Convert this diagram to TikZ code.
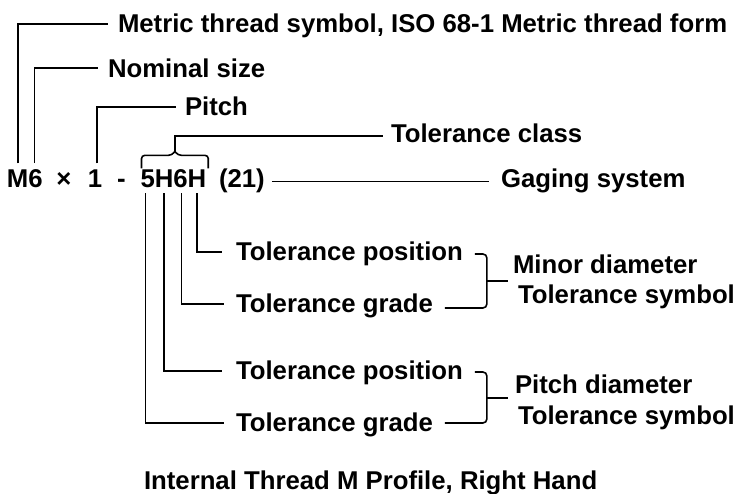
\documentclass[tikz,border=0pt]{standalone}
\usepackage{fontspec}
\setmainfont{Liberation Sans}
\usetikzlibrary{calc}
\begin{document}
\begin{tikzpicture}[x=0.75pt,y=-0.75pt,
  lbl/.style={anchor=base west,inner sep=0pt,outer sep=0pt,font=\fontsize{19.3}{22}\selectfont\bfseries,text=black},
  ln/.style={line width=1.2pt,draw=black}]
\useasboundingbox (0,0) rectangle (734,493);
% labels
\node[lbl] (metric) at (118,32) {Metric thread symbol, ISO 68-1 Metric thread form};
\node[lbl] (nominal) at (108,77) {Nominal size};
\node[lbl] (pitch) at (185,115) {Pitch};
\node[lbl] (tclass) at (391,142) {Tolerance class};
\node[lbl] (gaging) at (501,187.5) {Gaging system};
\node[lbl] (tpos1) at (236,260) {Tolerance position};
\node[lbl] (tgr1) at (236,312) {Tolerance grade};
\node[lbl] (tpos2) at (236,379) {Tolerance position};
\node[lbl] (tgr2) at (236,431) {Tolerance grade};
\node[lbl] (minor) at (513,273) {Minor diameter};
\node[lbl] (tsym1) at (518,303) {Tolerance symbol};
\node[lbl] (pdia) at (515,393) {Pitch diameter};
\node[lbl] (tsym2) at (518,424) {Tolerance symbol};
\node[lbl] (title) at (144,489) {Internal Thread M Profile, Right Hand};
% designation
\node[lbl] (cM) at (7,187) {M};
\node[lbl] (c6a) at (cM.base east) {6};
\node[lbl,anchor=base] (times) at (64,187) {×};
\node[lbl,anchor=base] (c1) at (95,187) {1};
\node[lbl,anchor=base] (dash) at (121.5,187) {-};
\node[lbl] (c5) at (140.5,187) {5};
\node[lbl] (cH1) at (c5.base east) {H};
\node[lbl] (c6) at (cH1.base east) {6};
\node[lbl] (cH2) at (c6.base east) {H};
\node[lbl] (c21) at (219,187) {(21)};
% upper leaders
\draw[ln] ($(cM.north)+(0,-6)$) |- ($(metric.base west)+(-10,-8)$);
\draw[ln] ($(c6a.north)+(-1,-6)$) |- ($(nominal.base west)+(-10,-9)$);
\draw[ln] ($(c1.north)+(2,-6)$) |- ($(pitch.base west)+(-9,-8)$);
% tolerance class brace
\coordinate (bL) at ($(c5.north west)+(1,-1)$);
\coordinate (bR) at ($(cH2.north east)+(2,-1)$);
\coordinate (bT) at ($(bL)!0.5!(bR)+(0,-17)$);
\draw[ln,rounded corners=2.5pt] (bL) |- ($(bT)+(-3,4)$) -- (bT);
\draw[ln,rounded corners=2.5pt] (bR) |- ($(bT)+(3,4)$) -- (bT);
\draw[ln] (bT) |- ($(tclass.base west)+(-8,-6)$);
% gaging
\coordinate (g0) at ($(c21.base east)+(7,-5.5)$);
\draw[ln] (g0) -- (g0 -| {$(gaging.base west)+(-12,0)$});
% lower leaders
\draw[ln] ($(cH2.south)+(0,6)$) |- ($(tpos1.base west)+(-14,-8)$);
\draw[ln] ($(c6.south)+(1,6)$) |- ($(tgr1.base west)+(-12,-8)$);
\draw[ln] ($(cH1.south)+(0,6)$) |- ($(tpos2.base west)+(-14,-8)$);
\draw[ln] ($(c5.south)+(-2,6)$) |- ($(tgr2.base west)+(-12,-8)$);
% right brackets
\draw[ln,rounded corners=3pt] ($(tpos1.base east)+(12,-6)$) -| ($(tgr1.base east)+(54,-4)$) -- ($(tgr1.base east)+(12,-4)$);
\draw[ln] ($(tgr1.base east)+(54,-31)$) -- ++(21,0);
\draw[ln,rounded corners=3pt] ($(tpos2.base east)+(12,-7)$) -| ($(tgr2.base east)+(54,-8)$) -- ($(tgr2.base east)+(12,-8)$);
\draw[ln] ($(tgr2.base east)+(54,-33)$) -- ++(21,0);
\end{tikzpicture}
\end{document}
